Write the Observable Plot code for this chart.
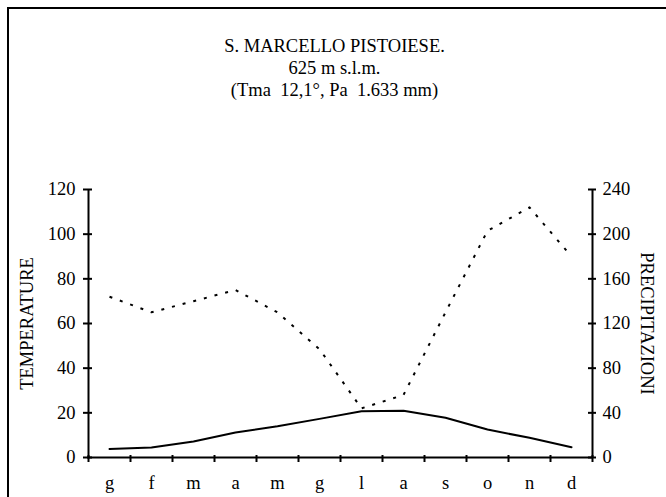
<!DOCTYPE html>
<html>
<head>
<meta charset="utf-8">
<script src="https://cdn.jsdelivr.net/npm/d3@7"></script>
<script src="https://cdn.jsdelivr.net/npm/@observablehq/plot@0.6"></script>
<style>
  html, body { margin: 0; padding: 0; background: #fff; overflow: hidden; }
  #wrap { position: relative; width: 666px; height: 497px; }
  #box { position: absolute; left: 7px; top: 7px; width: 720px; height: 560px;
         border-left: 2px solid #000; border-top: 2px solid #000; box-sizing: border-box; }
  #chart { position: absolute; left: 0; top: 0; }
  #chart svg, #chart svg text { font-family: "Liberation Serif", serif !important; font-size: 18.5px; }
</style>
</head>
<body>
<div id="wrap"><div id="box"></div><div id="chart"></div></div>
<script>
const titleLines = ["S. MARCELLO PISTOIESE.", "625 m s.l.m.", "(Tma \u00a012,1°, Pa \u00a01.633 mm)"];
const leftTitle = "TEMPERATURE";
const rightTitle = "PRECIPITAZIONI";
const months = ["g", "f", "m", "a", "m", "g", "l", "a", "s", "o", "n", "d"];
const temperature = [3.8, 4.5, 7.2, 11.2, 14.0, 17.3, 20.7, 20.9, 17.8, 12.5, 8.8, 4.6];
const precipitation = [144, 130, 140, 150, 130, 97, 44, 56, 130, 203, 224, 180];
const leftTicks = [0, 20, 40, 60, 80, 100, 120];
const rightTicks = [0, 40, 80, 120, 160, 200, 240];

const idx = months.map((_, i) => i);
const bounds = months.map((_, i) => i - 0.5).concat([months.length - 0.5]);
const xmin = -0.5, xmax = months.length - 0.5;

const plot = Plot.plot({
  width: 666,
  height: 497,
  marginLeft: 88,
  marginRight: 74,
  marginTop: 189,
  marginBottom: 40,
  x: {domain: [xmin, xmax]},
  y: {domain: [0, 120]},
  style: {fontFamily: "Liberation Serif", fontSize: "18.5px", background: "transparent", color: "#000", overflow: "visible"},
  marks: [
    Plot.ruleX([xmin], {stroke: "#000", strokeWidth: 2}),
    Plot.ruleX([xmax], {stroke: "#000", strokeWidth: 2}),
    Plot.ruleY([0], {stroke: "#000", strokeWidth: 2, insetLeft: -1, insetRight: -1}),
    Plot.ruleY(leftTicks, {y: d => d, x1: xmin, x2: xmin, insetLeft: -5, insetRight: -4, stroke: "#000", strokeWidth: 2}),
    Plot.ruleY(rightTicks, {y: d => d / 2, x1: xmax, x2: xmax, insetLeft: -4, insetRight: -4, stroke: "#000", strokeWidth: 2}),
    Plot.ruleX(bounds, {x: d => d, y1: 0, y2: 0, insetTop: -2, insetBottom: -5, stroke: "#000", strokeWidth: 2}),
    Plot.line(precipitation, {x: (d, i) => idx[i], y: d => d / 2, stroke: "#000", strokeWidth: 2, strokeDasharray: "3,8", strokeLinecap: "butt"}),
    Plot.line(temperature, {x: (d, i) => idx[i], y: d => d, stroke: "#000", strokeWidth: 2}),
    Plot.axisY({ticks: leftTicks, tickSize: 0, tickPadding: 13, label: null}),
    Plot.axisY({anchor: "right", ticks: rightTicks.map(d => d / 2), tickFormat: d => String(d * 2), tickSize: 0, tickPadding: 10, label: null}),
    Plot.axisX({ticks: idx, tickFormat: i => months[i], tickSize: 0, tickPadding: 18, label: null}),
    Plot.text([titleLines.join("\n")], {frameAnchor: "top", lineAnchor: "top", dy: -153, dx: -6, lineHeight: 1.19, fill: "#000"}),
    Plot.text([leftTitle], {frameAnchor: "left", textAnchor: "middle", rotate: -90, dx: -61, fill: "#000"}),
    Plot.text([rightTitle], {frameAnchor: "right", textAnchor: "middle", rotate: 90, dx: 54, fill: "#000"})
  ]
});
document.getElementById("chart").appendChild(plot);
</script>
</body>
</html>
